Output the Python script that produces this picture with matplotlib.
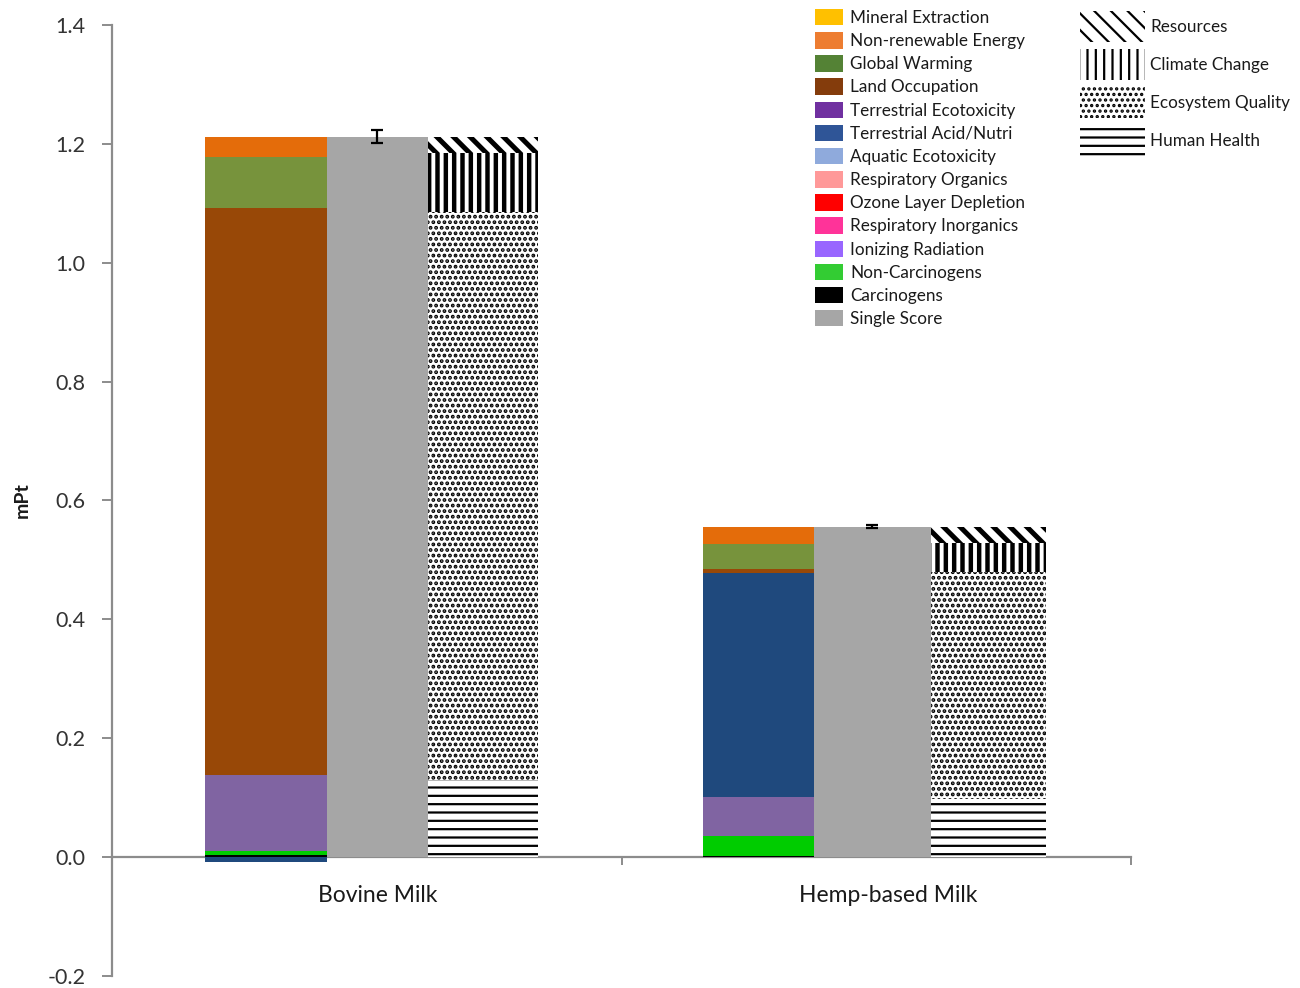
import numpy as np
import matplotlib
matplotlib.use("Agg")
import matplotlib.pyplot as plt
from matplotlib.patches import Patch

plt.rcParams['font.family'] = ['Lato', 'DejaVu Sans']

# ---- data ----
products = ['Bovine Milk', 'Hemp-based Milk']

impact_cats = ['Mineral Extraction', 'Non-renewable Energy', 'Global Warming',
               'Land Occupation', 'Terrestrial Ecotoxicity', 'Terrestrial Acid/Nutri',
               'Aquatic Ecotoxicity', 'Respiratory Organics', 'Ozone Layer Depletion',
               'Respiratory Inorganics', 'Ionizing Radiation', 'Non-Carcinogens',
               'Carcinogens']
bovine_impacts = [0.0, 0.034, 0.086, 0.954, 0.0, -0.008, 0.0, 0.0, 0.0, 0.128, 0.0, 0.007, 0.003]
hemp_impacts = [0.0, 0.029, 0.043, 0.006, 0.0, 0.377, 0.0, 0.0, 0.0, 0.065, 0.0, 0.034, 0.002]

single_score = [1.212, 0.556]
single_score_err = [0.011, 0.002]

damage_cats = ['Resources', 'Climate Change', 'Ecosystem Quality', 'Human Health']
bovine_damage = [0.027, 0.099, 0.956, 0.130]
hemp_damage = [0.028, 0.048, 0.382, 0.098]

# ---- styles ----
legend_colors = ['#FFC000', '#ED7D31', '#548235', '#843C0C', '#7030A0', '#2F5597',
                 '#8FAADC', '#FF9999', '#FF0000', '#FF3399', '#9966FF', '#33CC33',
                 '#000000']
bar_colors = ['#FFC000', '#E46C0A', '#77933C', '#984807', '#7030A0', '#1F497D',
              '#8FAADC', '#FF9999', '#FF0000', '#8064A2', '#9966FF', '#00CC00',
              '#000000']
gray = '#A6A6A6'
hatches = ['\\\\', '||', '...', '--']
hatch_lw = [3.6, 3.2, 1.9, 1.6]
axis_gray = '#8C8C8C'
text_col = '#1A1A1A'

# bar edges per group (left of stacked, single score, damage, right end)
group_edges = [[0.1825, 0.422, 0.620, 0.836],
               [1.160, 1.378, 1.607, 1.833]]

fig = plt.figure(figsize=(13, 9.88), dpi=100)
ax = fig.add_axes([112 / 1300, 12 / 988, 1019 / 1300, 951 / 988])
ax.set_xlim(0, 2)
ax.set_ylim(-0.2, 1.4)

impacts = [bovine_impacts, hemp_impacts]
damages = [bovine_damage, hemp_damage]

for g in range(len(products)):
    e = group_edges[g]
    # stacked impact categories (bottom = last in list)
    pos, neg = 0.0, 0.0
    for cat, val, col in reversed(list(zip(impact_cats, impacts[g], bar_colors))):
        if val == 0:
            continue
        if val > 0:
            ax.bar(e[0], val, width=e[1] - e[0], bottom=pos, align='edge',
                   color=col, linewidth=0, zorder=3)
            pos += val
        else:
            ax.bar(e[0], val, width=e[1] - e[0], bottom=neg, align='edge',
                   color=col, linewidth=0, zorder=3)
            neg += val
    # single score
    ax.bar(e[1], single_score[g], width=e[2] - e[1], align='edge',
           color=gray, linewidth=0, zorder=3)
    ax.errorbar((e[1] + e[2]) / 2, single_score[g], yerr=single_score_err[g],
                fmt='none', ecolor='black', elinewidth=1.6, capsize=4,
                capthick=1.6, zorder=5)
    # damage categories (bottom = last in list)
    base = 0.0
    for val, h, hlw in reversed(list(zip(damages[g], hatches, hatch_lw))):
        plt.rcParams['hatch.linewidth'] = hlw
        bars = ax.bar(e[2], val, width=e[3] - e[2], bottom=base, align='edge',
                      facecolor='white', edgecolor='black', hatch=h,
                      linewidth=0, zorder=3)
        for b in bars:
            if hasattr(b, 'set_hatch_linewidth'):
                b.set_hatch_linewidth(hlw)
        base += val

# axes styling
for s in ['top', 'right']:
    ax.spines[s].set_visible(False)
ax.spines['left'].set_color(axis_gray)
ax.spines['left'].set_linewidth(1.6)
ax.spines['bottom'].set_position(('data', 0))
ax.spines['bottom'].set_color(axis_gray)
ax.spines['bottom'].set_linewidth(1.6)
ax.spines['bottom'].set_zorder(2)

yt = np.round(np.arange(-0.2, 1.41, 0.2), 1)
ax.set_yticks(yt)
ax.set_yticklabels([f'{v:.1f}' for v in yt])
ax.tick_params(axis='y', direction='out', length=7, width=1.4, color=axis_gray,
               labelsize=15.5, labelcolor='#333333', pad=12)
ax.set_xticks([0, 1, 2])
ax.set_xticklabels([])
ax.tick_params(axis='x', direction='out', length=6, width=1.4, color=axis_gray)

label_x = [0.522, 1.523]
for x, name in zip(label_x, products):
    ax.annotate(name, xy=(x, 0), xytext=(0, -27.5), textcoords='offset points',
                ha='center', va='center', fontsize=16.5, color=text_col)

fig.text(22 / 1300, 1 - 500 / 988, 'mPt', rotation=90, ha='center', va='center',
         fontsize=14, fontweight='bold', color=text_col)

# legends
h1 = [Patch(facecolor=c, edgecolor='none') for c in legend_colors]
h1.append(Patch(facecolor=gray, edgecolor='none'))
l1 = impact_cats + ['Single Score']
fig.legend(h1, l1, loc='upper left', bbox_to_anchor=(815 / 1300, 1 - 9 / 988),
           frameon=False, fontsize=12.3, handlelength=1.65, handleheight=1.1,
           handletextpad=0.42, labelspacing=0.36, borderpad=0, borderaxespad=0,
           labelcolor=text_col)

h2 = []
for h, hlw in zip(hatches, hatch_lw):
    plt.rcParams['hatch.linewidth'] = hlw
    p = Patch(facecolor='white', edgecolor='black', hatch=h, linewidth=0)
    if hasattr(p, 'set_hatch_linewidth'):
        p.set_hatch_linewidth(hlw)
    h2.append(p)
fig.legend(h2, damage_cats, loc='upper left', bbox_to_anchor=(1080 / 1300, 1 - 11 / 988),
           frameon=False, fontsize=12.3, handlelength=3.8, handleheight=2.4,
           handletextpad=0.3, labelspacing=0.42, borderpad=0, borderaxespad=0,
           labelcolor=text_col)

fig.savefig('out.png', dpi=100, facecolor='white')
